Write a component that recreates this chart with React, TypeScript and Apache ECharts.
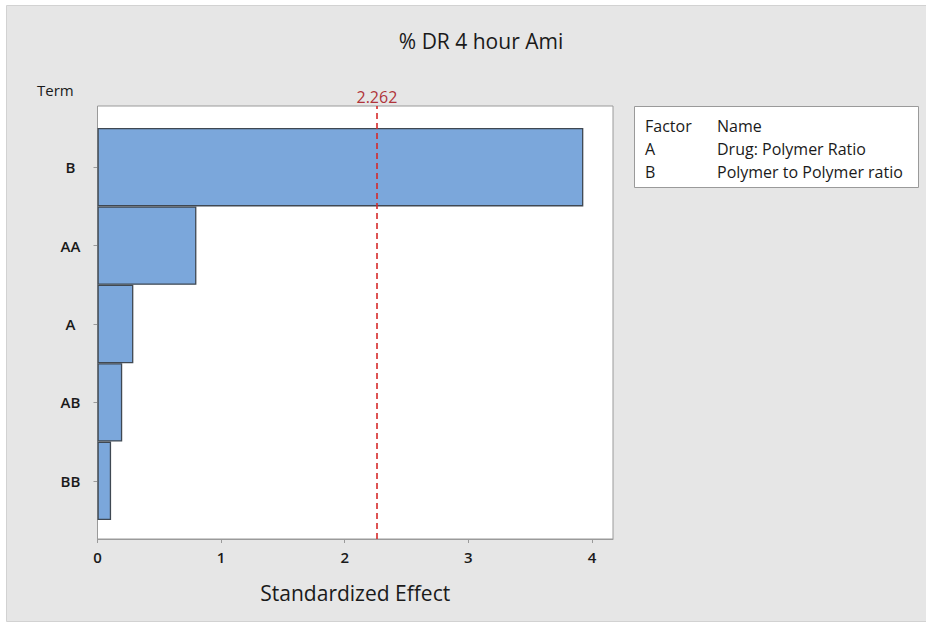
import React, { useEffect, useRef } from "react";
import * as echarts from "echarts";

// Pareto chart of the standardized effects
const terms = ["B", "AA", "A", "AB", "BB"];
const effects = [3.93, 0.8, 0.29, 0.2, 0.11];
const criticalValue = 2.262;
const xTicks = [0, 1, 2, 3, 4];
const factorCodes = ["A", "B"];
const factorNames = ["Drug: Polymer Ratio", "Polymer to Polymer ratio"];

const FONT = "'Open Sans', 'Noto Sans', sans-serif";
const X_MAX = 4.17;
const INK = "#1a1a1a";

export default function App() {
  const ref = useRef<HTMLDivElement>(null);

  useEffect(() => {
    document.body.style.margin = "0";
    if (!ref.current) return;
    const chart = echarts.init(ref.current, null, { renderer: "svg" });

    const legendRows = [
      { code: "Factor", name: "Name" },
      ...factorCodes.map((c, i) => ({ code: c, name: factorNames[i] })),
    ];

    const legendTexts: any[] = [];
    legendRows.forEach((r, i) => {
      legendTexts.push({
        type: "text",
        left: 645,
        top: 118 + i * 23,
        style: { text: r.code, font: `16px ${FONT}`, fill: INK },
      });
      legendTexts.push({
        type: "text",
        left: 717,
        top: 118 + i * 23,
        style: { text: r.name, font: `16px ${FONT}`, fill: INK },
      });
    });

    chart.setOption({
      animation: false,
      backgroundColor: "#ffffff",
      title: {
        text: "% DR 4 hour Ami",
        left: 476,
        top: 25,
        textAlign: "center",
        textStyle: { fontFamily: FONT, fontSize: 21, fontWeight: "normal", color: INK },
      },
      graphic: [
        {
          type: "rect",
          z: -10,
          silent: true,
          shape: { x: 6.5, y: 5.5, width: 930, height: 616 },
          style: { fill: "#e6e6e6", stroke: "#d2d2d2", lineWidth: 1 },
        },
        {
          type: "rect",
          z: 0,
          silent: true,
          shape: { x: 634.5, y: 106.5, width: 284, height: 81 },
          style: { fill: "#ffffff", stroke: "#9a9a9a", lineWidth: 1 },
        },
        ...legendTexts,
        {
          type: "text",
          left: 37,
          top: 82,
          style: { text: "Term", font: `15px ${FONT}`, fill: INK },
        },
      ],
      grid: [
        // bars
        { left: 97.5, right: 313, top: 128, height: 392, show: false },
        // framed plot area carrying the x axis and the reference line
        {
          left: 97.5,
          right: 313,
          top: 106,
          height: 433,
          show: true,
          backgroundColor: "#ffffff",
          borderColor: "#9a9a9a",
          borderWidth: 1,
          z: -1,
        },
      ],
      xAxis: [
        {
          gridIndex: 0,
          type: "value",
          min: 0,
          max: X_MAX,
          interval: 1,
          show: false,
        },
        {
          gridIndex: 1,
          type: "value",
          min: 0,
          max: X_MAX,
          interval: 1,
          name: "Standardized Effect",
          nameLocation: "middle",
          nameGap: 43,
          nameTextStyle: { fontFamily: FONT, fontSize: 21, color: INK },
          axisLine: { show: true, lineStyle: { color: "#9a9a9a" } },
          axisTick: { show: true, length: 4, lineStyle: { color: "#9a9a9a" } },
          splitLine: { show: false },
          axisLabel: {
            showMaxLabel: false,
            margin: 10,
            fontFamily: FONT,
            fontSize: 15,
            fontWeight: 600,
            color: INK,
            formatter: (v: number) => (xTicks.includes(v) ? String(v) : ""),
          },
        },
      ],
      yAxis: [
        {
          gridIndex: 0,
          type: "category",
          inverse: true,
          data: terms,
          axisLine: { show: false },
          axisTick: { show: true, length: 4, alignWithLabel: true, lineStyle: { color: "#9a9a9a" } },
          axisLabel: {
            align: "center",
            margin: 27,
            fontFamily: FONT,
            fontSize: 15,
            fontWeight: 600,
            color: INK,
          },
        },
        {
          gridIndex: 1,
          type: "value",
          min: 0,
          max: 1,
          show: false,
        },
      ],
      series: [
        {
          type: "bar",
          xAxisIndex: 0,
          yAxisIndex: 0,
          data: effects,
          barWidth: "100%",
          barCategoryGap: 0,
          itemStyle: { color: "#7ba7db", borderColor: "#3f4852", borderWidth: 1.3 },
          z: 3,
        },
        {
          type: "line",
          xAxisIndex: 1,
          yAxisIndex: 1,
          data: [],
          z: 4,
          markLine: {
            symbol: "none",
            silent: true,
            lineStyle: { color: "#d62a2a", type: [6, 4], width: 1.6 },
            label: {
              show: true,
              position: "end",
              formatter: () => criticalValue.toFixed(3),
              fontFamily: FONT,
              fontSize: 16,
              color: "#b0343a",
              distance: 1,
            },
            data: [{ xAxis: criticalValue }],
          },
        },
      ],
    });

    return () => chart.dispose();
  }, []);

  return <div ref={ref} style={{ width: 926, height: 625 }} />;
}
